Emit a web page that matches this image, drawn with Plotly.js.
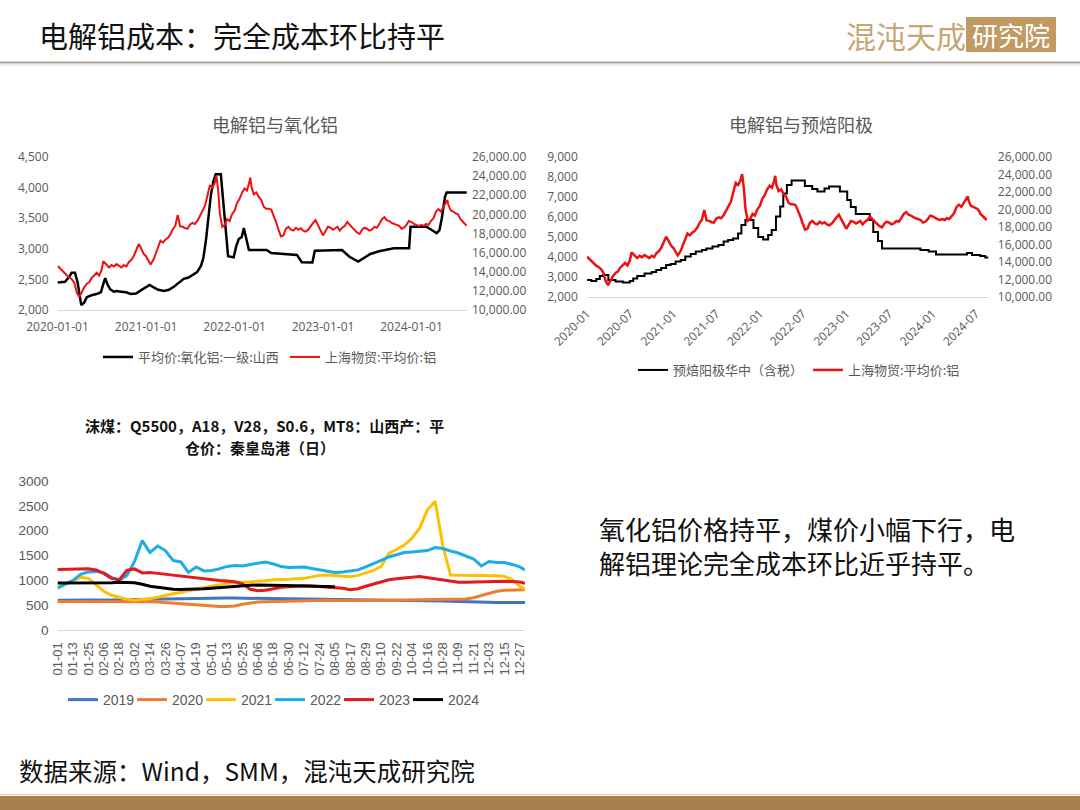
<!DOCTYPE html>
<html><head><meta charset="utf-8">
<script src="https://cdn.plot.ly/plotly-3.0.1.min.js"></script>
<style>html,body{margin:0;padding:0;background:#fff;} #chart{width:1080px;height:810px;}</style>
</head><body><div id="chart"></div>
<script>
// ---------- 上海物贸:平均价:铝 (元/吨) ----------
const alDates = ['2020-01-02','2020-01-11','2020-01-21','2020-02-03','2020-02-11','2020-02-21','2020-03-02','2020-03-11','2020-03-21','2020-03-31','2020-04-10','2020-04-21','2020-05-01','2020-05-11','2020-05-21','2020-06-01','2020-06-11','2020-06-21','2020-07-01','2020-07-08','2020-07-21','2020-08-01','2020-08-11','2020-08-21','2020-09-01','2020-09-11','2020-09-21','2020-10-01','2020-10-11','2020-10-21','2020-11-01','2020-11-11','2020-11-21','2020-12-01','2020-12-11','2020-12-21','2021-01-01','2021-01-11','2021-01-19','2021-02-01','2021-02-11','2021-02-21','2021-03-01','2021-03-11','2021-03-21','2021-04-01','2021-04-11','2021-04-21','2021-05-01','2021-05-11','2021-05-21','2021-06-01','2021-06-11','2021-06-21','2021-07-01','2021-07-11','2021-07-21','2021-08-01','2021-08-11','2021-08-21','2021-09-01','2021-09-11','2021-09-21','2021-10-01','2021-10-11','2021-10-18','2021-10-25','2021-11-01','2021-11-11','2021-11-21','2021-12-01','2021-12-11','2021-12-21','2022-01-01','2022-01-11','2022-01-21','2022-02-01','2022-02-11','2022-02-21','2022-03-01','2022-03-07','2022-03-11','2022-03-21','2022-04-01','2022-04-11','2022-04-21','2022-05-01','2022-05-11','2022-05-21','2022-06-01','2022-06-11','2022-06-21','2022-07-01','2022-07-11','2022-07-21','2022-08-01','2022-08-11','2022-08-21','2022-09-01','2022-09-11','2022-09-21','2022-10-01','2022-10-11','2022-10-21','2022-11-01','2022-11-11','2022-11-21','2022-12-01','2022-12-11','2022-12-21','2023-01-01','2023-01-11','2023-01-21','2023-02-01','2023-02-11','2023-02-21','2023-03-01','2023-03-11','2023-03-21','2023-04-01','2023-04-11','2023-04-21','2023-05-01','2023-05-11','2023-05-21','2023-06-01','2023-06-11','2023-06-21','2023-07-01','2023-07-11','2023-07-21','2023-08-01','2023-08-11','2023-08-21','2023-09-01','2023-09-11','2023-09-21','2023-10-01','2023-10-11','2023-10-21','2023-11-01','2023-11-11','2023-11-21','2023-12-01','2023-12-11','2023-12-21','2024-01-01','2024-01-11','2024-01-21','2024-02-01','2024-02-11','2024-02-21','2024-03-01','2024-03-11','2024-03-21','2024-04-01','2024-04-11','2024-04-21','2024-05-01','2024-05-11','2024-05-21','2024-05-28','2024-06-01','2024-06-11','2024-06-21','2024-07-01','2024-07-11','2024-07-21','2024-08-01','2024-08-11','2024-08-16'];
const alPrice = [14600,14350,14150,13700,13550,13400,13150,12800,11800,11350,11900,12400,12750,12900,13350,13700,13900,13600,14200,15100,14750,14450,14700,14550,14800,14600,14450,14700,14550,15000,15250,15650,16200,16900,16450,15900,15600,15100,14750,15300,16000,16900,17250,17050,17350,17550,17900,18450,18800,19950,18750,18700,18550,18500,18950,19100,19000,19350,19800,20300,20900,22000,23050,22800,23300,24050,22500,20100,18700,18900,19500,19300,20000,20400,21200,21600,22300,22700,22500,23200,23850,22900,22100,22300,21800,21500,20800,20600,20600,20500,19900,19200,18400,17700,17800,18500,18700,18400,18300,18600,18400,18550,18300,18200,18400,18800,19100,19400,18800,18350,17800,18300,18700,18600,18400,18550,18700,18300,18600,18800,19200,18900,18600,18300,18100,17950,18400,18600,18500,18300,18400,18700,18600,19000,19500,19700,19400,19300,19100,19000,18900,18800,18500,18600,18900,19300,19200,19000,18900,18800,18900,18800,19000,18900,19300,19600,20300,20550,20300,20800,21200,21500,21000,20400,20300,20100,20000,19500,19200,18900,18800];

// ---------- 平均价:氧化铝:一级:山西 (元/吨) ----------
const aluminaDates = ['2020-01-01','2020-02-01','2020-02-20','2020-02-28','2020-03-13','2020-03-24','2020-04-08','2020-04-20','2020-05-01','2020-05-20','2020-06-10','2020-06-28','2020-07-10','2020-07-16','2020-07-25','2020-08-05','2020-08-20','2020-09-01','2020-09-20','2020-10-10','2020-10-30','2020-11-20','2020-12-10','2020-12-25','2021-01-15','2021-02-01','2021-02-20','2021-03-15','2021-04-05','2021-04-25','2021-05-15','2021-06-05','2021-06-25','2021-07-15','2021-07-30','2021-08-15','2021-08-25','2021-09-05','2021-09-15','2021-09-25','2021-10-05','2021-10-15','2021-11-05','2021-11-15','2021-11-25','2021-12-05','2021-12-28','2022-01-08','2022-01-18','2022-01-30','2022-02-08','2022-02-16','2022-03-01','2022-05-13','2022-06-01','2022-09-15','2022-10-05','2022-11-18','2022-11-28','2023-03-20','2023-04-20','2023-05-26','2023-06-20','2023-07-15','2023-08-20','2023-09-20','2023-10-20','2023-12-22','2023-12-28','2024-03-03','2024-04-14','2024-04-25','2024-05-05','2024-05-18','2024-05-25','2024-08-16'];
const aluminaPrice = [2450,2460,2550,2610,2610,2450,2080,2120,2210,2240,2260,2290,2450,2520,2420,2340,2300,2310,2300,2290,2260,2270,2320,2360,2410,2370,2330,2310,2330,2380,2450,2510,2530,2580,2620,2720,2850,3150,3550,3880,4100,4220,4220,3800,3250,2880,2860,3050,3160,3190,3340,3200,2980,2980,2930,2900,2780,2775,2970,2980,2870,2790,2850,2915,2960,2980,3010,3010,3360,3360,3255,3300,3500,3850,3920,3920];

// ---------- 预焙阳极华中（含税） (元/吨) ----------
const anodeDates = ['2020-01-02','2020-01-20','2020-02-10','2020-02-25','2020-03-10','2020-04-01','2020-05-01','2020-06-01','2020-07-01','2020-07-15','2020-08-01','2020-09-01','2020-10-01','2020-10-20','2020-11-10','2020-12-01','2020-12-20','2021-01-10','2021-02-01','2021-02-20','2021-03-15','2021-04-05','2021-05-01','2021-05-20','2021-06-15','2021-07-10','2021-08-01','2021-08-20','2021-09-10','2021-10-01','2021-10-15','2021-11-01','2021-12-05','2021-12-25','2022-01-15','2022-02-05','2022-02-20','2022-03-10','2022-03-28','2022-04-10','2022-04-25','2022-05-15','2022-07-10','2022-08-10','2022-09-01','2022-10-01','2022-10-20','2022-12-05','2023-01-05','2023-01-20','2023-02-10','2023-04-10','2023-04-25','2023-05-15','2023-06-01','2023-11-10','2023-12-15','2024-01-15','2024-05-25','2024-06-15','2024-07-20','2024-08-10','2024-08-23'];
const anodePrice = [2850,2800,2900,3050,3100,2850,2770,2720,2800,2930,3050,3180,3250,3350,3450,3600,3650,3770,3850,4020,4150,4270,4350,4430,4520,4600,4770,4850,4930,5180,5600,5850,5450,5000,4880,5100,5350,6020,6520,7180,7600,7820,7550,7400,7270,7430,7520,7270,6850,6500,6150,5850,5250,4800,4430,4350,4270,4130,4200,4100,4050,3980,3980];

// ---------- 沫煤 Q5500 秦皇岛港平仓价 (元/吨) ----------
const coalDays = ['01-01','01-07','01-13','01-19','01-25','01-31','02-06','02-12','02-18','02-24','03-02','03-08','03-14','03-20','03-26','04-01','04-07','04-13','04-19','04-25','05-01','05-07','05-13','05-19','05-25','05-31','06-06','06-12','06-18','06-24','06-30','07-06','07-12','07-18','07-24','07-30','08-05','08-11','08-17','08-23','08-29','09-04','09-10','09-16','09-22','09-28','10-04','10-10','10-16','10-22','10-28','11-03','11-09','11-15','11-21','11-27','12-03','12-09','12-15','12-21','12-27','12-31'];
const coal2019 = [600,600,602,605,603,600,598,600,605,610,615,618,620,625,630,635,640,645,648,650,650,648,645,642,640,638,635,633,632,630,630,628,627,625,623,620,618,618,617,616,615,613,612,610,608,606,603,600,595,590,585,578,572,567,563,560,558,556,555,555,554,553];
const coal2020 = [575,575,577,580,580,583,585,585,582,580,578,575,570,565,555,545,530,515,500,490,482,475,475,485,520,550,565,570,575,580,585,590,595,600,600,598,595,592,590,590,592,595,598,600,603,605,608,610,612,612,613,615,618,625,650,690,740,780,800,805,808,810];
const coal2021 = [860,930,1000,1060,1040,900,780,700,660,620,600,610,630,660,700,730,760,790,830,860,890,920,940,950,960,960,970,990,1010,1010,1020,1030,1040,1070,1100,1107,1100,1080,1070,1100,1150,1200,1280,1540,1620,1710,1850,2050,2420,2590,1700,1107,1100,1100,1100,1095,1095,1090,1080,1010,880,820];
const coal2022 = [840,920,1000,1120,1170,1180,1150,1060,1000,1100,1380,1800,1560,1690,1600,1400,1370,1160,1270,1190,1200,1230,1280,1300,1290,1320,1350,1370,1330,1280,1260,1270,1270,1240,1210,1180,1160,1170,1190,1210,1270,1330,1400,1470,1520,1560,1570,1585,1600,1660,1640,1590,1550,1490,1430,1290,1380,1360,1360,1320,1270,1210];
const coal2023 = [1220,1225,1230,1240,1235,1210,1140,1040,1010,1200,1230,1150,1160,1140,1120,1110,1090,1060,1040,1020,1010,995,985,970,930,820,790,800,830,860,870,880,890,885,875,870,860,840,810,830,880,920,970,1010,1030,1040,1060,1075,1050,1030,1000,975,960,960,965,960,965,975,980,975,965,940];
const coal2024 = [945,945,948,950,950,945,940,950,960,960,950,920,880,860,835,820,815,815,820,830,840,855,870,885,895,900,905,905,900,895,890,890,885,882,880,875,870];
const coalYears = ['2019','2020','2021','2022','2023','2024'];
const coalColors = ['#4472C4','#ED7D31','#FFC000','#1CADE4','#E3191B','#000000'];

// ---------- helpers ----------
const W = 1080, H = 810;
const px = v => v / W;
const py = v => 1 - v / H;
const RED = '#EE1111';
const GRAY = '#595959';
const AX = {family: 'Open Sans, sans-serif', size: 12, color: GRAY};
const AX3 = {family: 'Liberation Sans, Arial, sans-serif', size: 13, color: GRAY};
const CJK = 'Noto Sans CJK SC, sans-serif';

const coalSeries = [coal2019, coal2020, coal2021, coal2022, coal2023, coal2024];

const traces = [
  {x: aluminaDates, y: aluminaPrice, xaxis: 'x', yaxis: 'y', type: 'scatter', mode: 'lines',
   name: '平均价:氧化铝:一级:山西', line: {color: '#000', width: 2.5}, legend: 'legend', legendwidth: 142},
  {x: alDates, y: alPrice, xaxis: 'x', yaxis: 'y2', type: 'scatter', mode: 'lines',
   name: '上海物贸:平均价:铝', line: {color: RED, width: 2}, legend: 'legend'},
  {x: anodeDates, y: anodePrice, xaxis: 'x2', yaxis: 'y3', type: 'scatter', mode: 'lines',
   name: '预焙阳极华中（含税）', line: {color: '#000', width: 2, shape: 'hv'}, legend: 'legend2'},
  {x: alDates, y: alPrice, xaxis: 'x2', yaxis: 'y4', type: 'scatter', mode: 'lines',
   name: '上海物贸:平均价:铝', line: {color: RED, width: 2.5}, legend: 'legend2'}
];
coalSeries.forEach((s, i) => {
  const t = {
    x: coalDays.slice(0, s.length).map(d => '2023-' + d), y: s,
    xaxis: 'x3', yaxis: 'y5', type: 'scatter', mode: 'lines',
    name: coalYears[i], line: {color: coalColors[i], width: 3}, legend: 'legend3'
  };
  if (i === coalSeries.length - 1) t.legendwidth = 36;
  traces.push(t);
});

const baseX = {type: 'date', showgrid: false, zeroline: false, ticks: '', showline: true,
  linecolor: '#D9D9D9', linewidth: 1, fixedrange: true};
const baseY = {showgrid: false, zeroline: false, ticks: '', showline: false, fixedrange: true};

const layout = {
  width: W, height: H, margin: {l: 0, r: 0, t: 0, b: 0},
  paper_bgcolor: '#fff', plot_bgcolor: 'rgba(0,0,0,0)', hovermode: false,
  showlegend: true,
  xaxis: Object.assign({}, baseX, {domain: [px(57.5), px(467)], anchor: 'y',
    range: ['2020-01-01', '2024-08-17'], tick0: '2020-01-01', dtick: 'M12',
    tickformat: '%Y-%m-%d', tickfont: AX, ticklabelstandoff: 6}),
  yaxis: Object.assign({}, baseY, {domain: [py(310), py(157)], anchor: 'x',
    range: [2000, 4500], dtick: 500, tickformat: ',', tickfont: AX, ticklabelstandoff: 8}),
  yaxis2: Object.assign({}, baseY, {overlaying: 'y', side: 'right', anchor: 'x',
    range: [10000, 26000], dtick: 2000, tickformat: ',.2f', tickfont: AX, ticklabelstandoff: 4}),
  xaxis2: Object.assign({}, baseX, {domain: [px(586.8), px(988.8)], anchor: 'y3',
    range: ['2020-01-01', '2024-08-25'], tick0: '2020-01-01', dtick: 'M6',
    tickformat: '%Y-%m', tickangle: -45, tickfont: AX, ticklabelstandoff: 4}),
  yaxis3: Object.assign({}, baseY, {domain: [py(297), py(157)], anchor: 'x2',
    range: [2000, 9000], dtick: 1000, tickformat: ',', tickfont: AX, ticklabelstandoff: 8}),
  yaxis4: Object.assign({}, baseY, {overlaying: 'y3', side: 'right', anchor: 'x2',
    range: [10000, 26000], dtick: 2000, tickformat: ',.2f', tickfont: AX, ticklabelstandoff: 8}),
  xaxis3: Object.assign({}, baseX, {domain: [px(57.5), px(525)], anchor: 'y5',
    range: ['2023-01-01', '2023-12-31'], tick0: '2023-01-01', dtick: 12 * 86400000,
    tickformat: '%m-%d', tickangle: -90, tickfont: AX3, ticklabelstandoff: 6}),
  yaxis5: Object.assign({}, baseY, {domain: [py(630), py(481)], anchor: 'x3',
    range: [0, 3000], dtick: 500, tickformat: 'd',
    tickfont: {family: AX3.family, size: 13.5, color: GRAY}, ticklabelstandoff: 8}),
  legend: {orientation: 'h', x: px(98), xanchor: 'left', y: py(357), yanchor: 'middle',
    font: {family: CJK, size: 13, color: GRAY}, bgcolor: 'rgba(0,0,0,0)'},
  legend2: {orientation: 'h', x: px(633), xanchor: 'left', y: py(370), yanchor: 'middle',
    font: {family: CJK, size: 13, color: GRAY}, bgcolor: 'rgba(0,0,0,0)'},
  legend3: {orientation: 'h', x: px(63), xanchor: 'left', y: py(700), yanchor: 'middle',
    entrywidth: 24, entrywidthmode: 'pixels',
    font: {family: AX3.family, size: 14, color: GRAY}, bgcolor: 'rgba(0,0,0,0)'},
  shapes: [
    {type: 'line', xref: 'paper', yref: 'paper', x0: 0, x1: 1, y0: py(62.5), y1: py(62.5),
     line: {color: '#ADA397', width: 2}},
    {type: 'line', xref: 'paper', yref: 'paper', x0: 0, x1: 1, y0: py(65), y1: py(65),
     line: {color: '#E4DFD8', width: 1}},
    {type: 'rect', xref: 'paper', yref: 'paper', x0: px(966), x1: px(1056), y0: py(52), y1: py(17),
     fillcolor: '#C09A60', line: {width: 0}},
    {type: 'line', xref: 'paper', yref: 'paper', x0: 0, x1: 1, y0: py(794.5), y1: py(794.5),
     line: {color: '#E6D6BC', width: 1.5}},
    {type: 'rect', xref: 'paper', yref: 'paper', x0: 0, x1: 1, y0: 0, y1: py(796),
     fillcolor: '#A88050', line: {width: 0}}
  ],
  annotations: [
    {text: '电解铝成本：完全成本环比持平', xref: 'paper', yref: 'paper', x: px(37), y: py(35),
     xanchor: 'left', yanchor: 'middle', showarrow: false, font: {family: CJK, size: 29, color: '#111'}},
    {text: '混沌天成', xref: 'paper', yref: 'paper', x: px(906), y: py(35),
     xanchor: 'center', yanchor: 'middle', showarrow: false, font: {family: CJK, size: 30, color: '#C8A673'}},
    {text: '研究院', xref: 'paper', yref: 'paper', x: px(1011), y: py(35),
     xanchor: 'center', yanchor: 'middle', showarrow: false, font: {family: CJK, size: 26, color: '#FFFFFF'}},
    {text: '电解铝与氧化铝', xref: 'paper', yref: 'paper', x: px(275), y: py(124),
     xanchor: 'center', yanchor: 'middle', showarrow: false, font: {family: CJK, size: 18, color: GRAY}},
    {text: '电解铝与预焙阳极', xref: 'paper', yref: 'paper', x: px(801), y: py(124),
     xanchor: 'center', yanchor: 'middle', showarrow: false, font: {family: CJK, size: 18, color: GRAY}},
    {text: '<b>沫煤：Q5500，A18，V28，S0.6，MT8：山西产：平</b>', xref: 'paper', yref: 'paper', x: px(264), y: py(425),
     xanchor: 'center', yanchor: 'middle', showarrow: false, font: {family: CJK, size: 15, color: '#111'}},
    {text: '<b>仓价：秦皇岛港（日）</b>', xref: 'paper', yref: 'paper', x: px(260), y: py(448),
     xanchor: 'center', yanchor: 'middle', showarrow: false, font: {family: CJK, size: 15, color: '#111'}},
    {text: '氧化铝价格持平，煤价小幅下行，电', xref: 'paper', yref: 'paper', x: px(597), y: py(528),
     xanchor: 'left', yanchor: 'middle', showarrow: false, font: {family: CJK, size: 26, color: '#111'}},
    {text: '解铝理论完全成本环比近乎持平。', xref: 'paper', yref: 'paper', x: px(597), y: py(562),
     xanchor: 'left', yanchor: 'middle', showarrow: false, font: {family: CJK, size: 26, color: '#111'}},
    {text: '数据来源：Wind，SMM，混沌天成研究院', xref: 'paper', yref: 'paper', x: px(17), y: py(770),
     xanchor: 'left', yanchor: 'middle', showarrow: false, font: {family: CJK, size: 24.5, color: '#111'}}
  ]
};

Plotly.newPlot('chart', traces, layout, {staticPlot: true, displayModeBar: false});
</script></body></html>
